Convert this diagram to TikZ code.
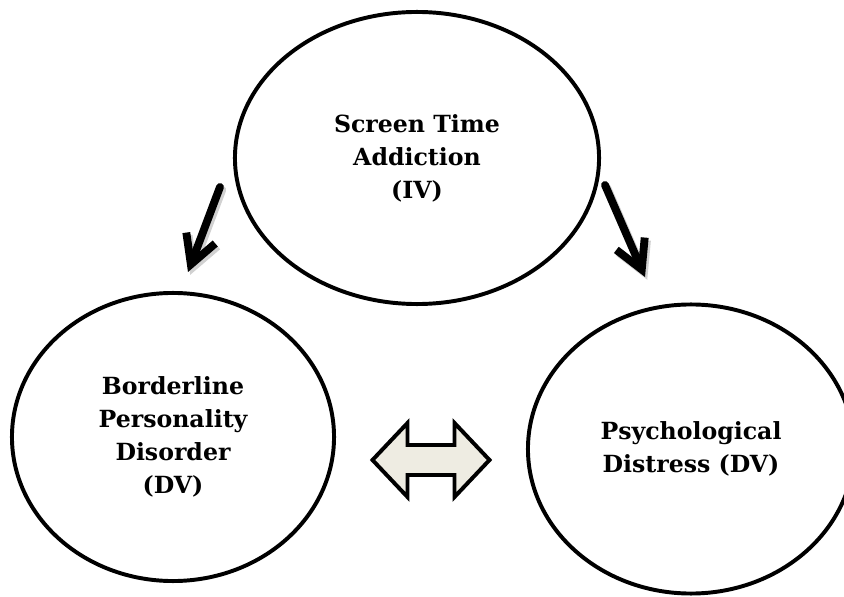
\documentclass[tikz,border=0pt]{standalone}
\usepackage{fontspec}
\setmainfont{DejaVu Serif}
\usetikzlibrary{arrows.meta,shapes.geometric,calc}
\definecolor{linkfill}{RGB}{238,236,226}

\begin{document}
\begin{tikzpicture}[x=0.025cm, y=-0.025cm,
  every node/.style={font=\bfseries\fontsize{16.8}{23.4}\selectfont},
  oval/.style={draw, ellipse, line width=2.8pt, align=center, inner sep=0pt},
  causal/.style={line width=5.6pt, line cap=round, -{Straight Barb[length=20pt, width=22pt]}},
  causalshade/.style={causal, draw=black!18, transform canvas={shift={(1.6pt,-2pt)}}}]

\useasboundingbox (0,0) rectangle (844,597);
\clip (0,0) rectangle (844,597);

% Variables
\node[oval, minimum width=9.1cm, minimum height=7.3cm] (sta) at (417,158) {Screen Time\\Addiction\\(IV)};
\node[oval, minimum width=8.05cm, minimum height=7.2cm] (bpd) at (173,437) {Borderline\\Personality\\Disorder\\(DV)};
\node[oval, minimum width=8.15cm, minimum height=7.225cm] (pd) at (691,449) {Psychological\\Distress (DV)};

% Arrow ends
\coordinate (bpdfrom) at (220,187);
\coordinate (bpdto) at (188,272);
\coordinate (pdfrom) at (605,185);
\coordinate (pdto) at (645,277);
\coordinate (link) at ($(bpd.east)!0.5!(pd.west)$);

% Arrows: IV to DVs
\draw[causalshade] (bpdfrom) -- (bpdto);
\draw[causalshade] (pdfrom) -- (pdto);
\draw[causal] (bpdfrom) -- (bpdto);
\draw[causal] (pdfrom) -- (pdto);

% Double arrow between DVs
\draw[line width=2.8pt, fill=linkfill, line join=miter]
  ([xshift=-58.5*0.025cm]link |- 0,460) -- ++(35,-37) -- ++(0,22) -- ++(47,0) -- ++(0,-22)
  -- ++(35,37) -- ++(-35,37) -- ++(0,-22) -- ++(-47,0) -- ++(0,22) -- cycle;

\end{tikzpicture}
\end{document}
